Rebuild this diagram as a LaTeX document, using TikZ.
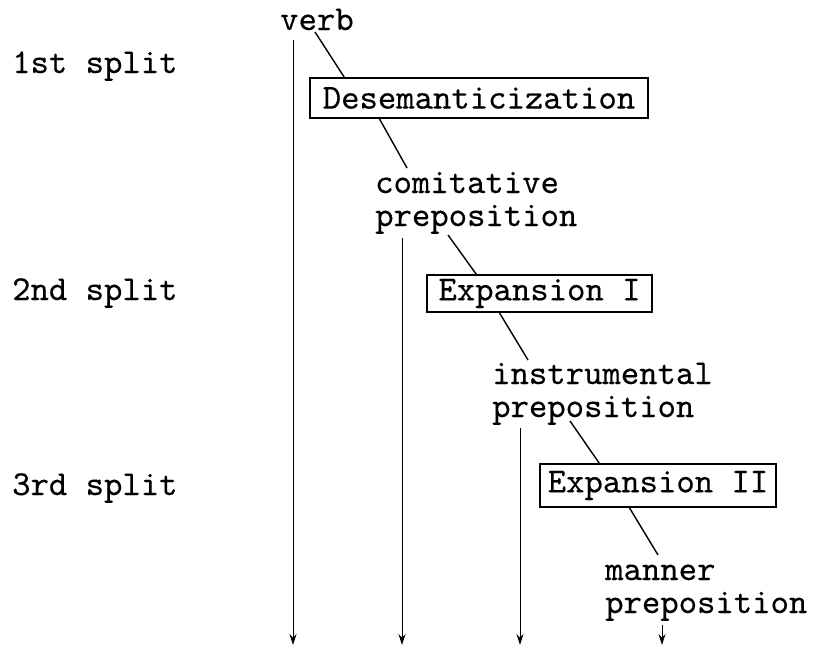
\documentclass[tikz,border=0pt]{standalone}
\usepackage{fontspec}
\usetikzlibrary{arrows.meta}
% typewriter face, slightly thickened
\newfontfamily\typer{lmmono10-regular.otf}[FakeBold=0.3]
\begin{document}
\begin{tikzpicture}[x=1pt,y=-1pt,
  tt/.style={font=\fontsize{35}{33}\selectfont\typer},
  lbl/.style={tt, inner sep=0pt, anchor=base west, align=left},
  stage/.style={tt, draw, line width=1.3pt, inner sep=0pt},
  link/.style={line width=1.4pt},
  flow/.style={line width=0.9pt, -{Stealth[length=11pt,width=7pt]}}]
\useasboundingbox (0,0) rectangle (819,653);

% split labels on the left
\node[lbl] (s1) at (12,73) {1st split};
\node[lbl] (s2) at (12,300) {2nd split};
\node[lbl] (s3) at (12,495) {3rd split};

% the chain of stages (two-line labels are placed by their last baseline)
\node[lbl] (verb) at (280,30) {verb};
\node[stage, minimum width=338pt, minimum height=40pt] (desem) at (479,98) {Desemanticization};
\node[lbl] (comit) at (375,226) {comitative\\preposition};
\node[stage, minimum width=225pt, minimum height=37pt] (exp1) at (539.5,293.5) {Expansion I};
\node[lbl] (instr) at (492,417) {instrumental\\preposition};
\node[stage, minimum width=236pt, minimum height=43pt] (exp2) at (658,485.5) {Expansion II};
\node[lbl] (manner) at (605,613) {manner\\preposition};

% diagonal links
\draw[link] ([xshift=35pt,yshift=-2pt]verb.base west) -- ([xshift=35pt]desem.north west);
\draw[link] ([xshift=70pt]desem.south west) -- ([xshift=32pt,yshift=58pt]comit.base west);
\draw[link] ([xshift=73pt,yshift=-9pt]comit.base west) -- ([xshift=50pt]exp1.north west);
\draw[link] ([xshift=73pt]exp1.south west) -- ([xshift=36pt,yshift=57pt]instr.base west);
\draw[link] ([xshift=78pt,yshift=-4pt]instr.base west) -- ([xshift=60pt]exp2.north west);
\draw[link] ([xshift=90pt]exp2.south west) -- ([xshift=53pt,yshift=58pt]manner.base west);

% downward continuation arrows
\coordinate (end1) at (293,645);
\coordinate (end2) at (402,645);
\coordinate (end3) at (520,645);
\coordinate (end4) at (662,645);
\draw[flow] ([xshift=13pt,yshift=-10pt]verb.base west) -- (end1);
\draw[flow] ([xshift=27pt,yshift=-12pt]comit.base west) -- (end2);
\draw[flow] ([xshift=28pt,yshift=-11pt]instr.base west) -- (end3);
\draw[flow] ([xshift=57pt,yshift=-12pt]manner.base west) -- (end4);
\end{tikzpicture}
\end{document}
